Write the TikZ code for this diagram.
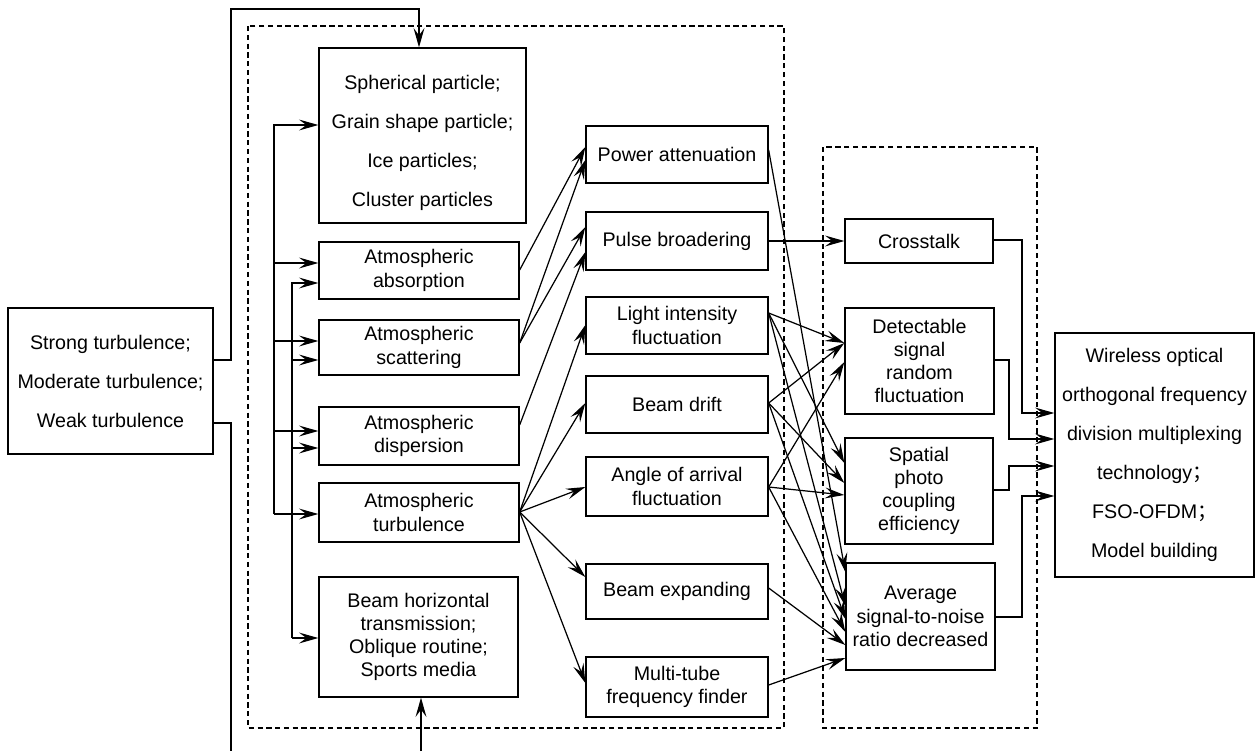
\documentclass[tikz,border=0pt]{standalone}
\usepackage{fontspec}
\setmainfont{Liberation Sans}
\newfontfamily\cjkfont{Noto Sans CJK SC}
\usetikzlibrary{arrows.meta,calc}
\begin{document}
\begin{tikzpicture}[x=0.02cm,y=-0.02cm,
  box/.style={draw, line width=0.75pt, align=center, inner sep=0pt, font=\fontsize{11.2}{13.2}\selectfont},
  wide/.style={font=\fontsize{11.2}{22.2}\selectfont},
  plain/.style={align=center, inner sep=0pt, font=\fontsize{11.2}{22.2}\selectfont},
  sz/.style 2 args={minimum width=#1*0.02cm, minimum height=#2*0.02cm},
  conn/.style={line width=0.7pt},
  arr/.style={conn, -{Stealth[length=11pt,width=6.2pt,inset=4.2pt]}},
  dbox/.style={line width=0.65pt, dash pattern=on 3pt off 2pt}
]
\useasboundingbox (0,0) rectangle (1258,751);
% dashed groups
\draw[dbox] (248,26) rectangle (784,728);
\draw[dbox] (823,147) rectangle (1037,728);

% nodes
\node[box,sz={205}{146},wide] (turb) at (110.5,381) {Strong turbulence;\\Moderate turbulence;\\Weak turbulence};
\node[box,sz={207}{175}] (sph) at (422.5,135.5) {};
\node[plain] (sphtext) at (422.5,143) {Spherical particle;\\Grain shape particle;\\Ice particles;\\Cluster particles};
\node[box,sz={200}{57}] (abs) at (419,270.5) {Atmospheric\\absorption};
\node[box,sz={200}{55}] (sca) at (419,347.5) {Atmospheric\\scattering};
\node[box,sz={200}{58}] (dis) at (419,436) {Atmospheric\\dispersion};
\node[box,sz={200}{59}] (atu) at (419,512.5) {Atmospheric\\turbulence};
\node[box,sz={199}{120}] (bhz) at (418.5,637) {Beam horizontal\\transmission;\\Oblique routine;\\Sports media};
\node[box,sz={182}{57}] (pow) at (677,154.5) {Power attenuation};
\node[box,sz={182}{58}] (pul) at (677,241) {Pulse broadering};
\node[box,sz={182}{57}] (lig) at (677,325.5) {Light intensity\\fluctuation};
\node[box,sz={182}{57}] (bdr) at (677,404.5) {Beam drift};
\node[box,sz={182}{59}] (aoa) at (677,486.5) {Angle of arrival\\fluctuation};
\node[box,sz={182}{55}] (bex) at (677,591.5) {Beam expanding};
\node[box,sz={182}{60}] (mtf) at (677,687) {Multi-tube\\frequency finder};
\node[box,sz={148}{44}] (cro) at (919,241) {Crosstalk};
\node[box,sz={149}{106}] (det) at (919.5,361) {Detectable\\signal\\random\\fluctuation};
\node[box,sz={148}{106}] (spa) at (919,491) {Spatial\\photo\\coupling\\efficiency};
\node[box,sz={149}{107}] (avg) at (920.5,616.5) {Average\\signal-to-noise\\ratio decreased};
\node[box,sz={199}{244},wide] (fin) at (1154.5,455) {Wireless optical\\orthogonal frequency\\division multiplexing\\technology{\cjkfont ；}\\FSO-OFDM{\cjkfont ；}\\Model building};

% loop from the turbulence-strength box
\coordinate (loopL) at (231,751);
\coordinate (loopR) at (421,751);
\draw[arr] (turb.east |- 0,360) -- (231,360) -- (231,9) -- (419,9) -- (sph.north -| 419,0);
\draw[conn] (turb.east |- 0,423) -- (231,423) -- (loopL);
\draw[arr] (loopR) -- (bhz.south -| loopR);

% bus 1
\coordinate (b1t) at (274,125);
\coordinate (b1b) at (274,514);
\draw[arr] (b1b) -- (b1t) -- (sph.west |- b1t);
\draw[arr] (b1b) -- (atu.west |- b1b);
\draw[arr] (274,263) -- (abs.west |- 0,263);
\draw[arr] (274,341) -- (sca.west |- 0,341);
\draw[arr] (274,431) -- (dis.west |- 0,431);
% bus 2
\coordinate (b2t) at (292,283);
\coordinate (b2b) at (292,638);
\draw[arr] (b2b) -- (b2t) -- (abs.west |- b2t);
\draw[arr] (b2b) -- (bhz.west |- b2b);
\draw[arr] (292,360) -- (sca.west |- 0,360);
\draw[arr] (292,448) -- (dis.west |- 0,448);

% left column -> middle column
\draw[arr] (abs.east |- 0,270) -- (pow.west |- 0,147);
\draw[arr] (sca.east |- 0,343) -- (pow.west |- 0,160);
\draw[arr] (sca.east |- 0,343) -- (pul.west |- 0,227);
\draw[arr] (dis.east |- 0,425) -- (pul.west |- 0,252);
\draw[arr] (atu.east |- 0,512) -- (lig.west |- 0,325);
\draw[arr] (atu.east |- 0,512) -- (bdr.west |- 0,403);
\draw[arr] (atu.east |- 0,512) -- (aoa.west |- 0,487);
\draw[arr] (atu.east |- 0,512) -- (bex.west |- 0,577);
\draw[arr] (atu.east |- 0,512) -- (mtf.west |- 0,683);

% middle column -> right column
\draw[arr] (pow.east |- 0,150) -- (avg.west |- 0,572);
\draw[arr] (pul.east |- 0,241) -- (cro.west |- 0,241);
\draw[arr] (lig.east |- 0,313) -- (det.west |- 0,343);
\draw[arr] (lig.east |- 0,313) -- (spa.west |- 0,463);
\draw[arr] (lig.east |- 0,313) -- (avg.west |- 0,606);
\draw[arr] (bdr.east |- 0,403) -- (det.west |- 0,343);
\draw[arr] (bdr.east |- 0,403) -- (spa.west |- 0,483);
\draw[arr] (bdr.east |- 0,403) -- (avg.west |- 0,619);
\draw[arr] (aoa.east |- 0,487) -- (det.west |- 0,362);
\draw[arr] (aoa.east |- 0,487) -- (spa.west |- 0,495);
\draw[arr] (aoa.east |- 0,487) -- (avg.west |- 0,632);
\draw[arr] (bex.east |- 0,588) -- (avg.west |- 0,645);
\draw[arr] (mtf.east |- 0,685) -- (avg.west |- 0,658);

% right column -> final box
\draw[arr] (cro.east |- 0,240) -- (1022,240) -- (1022,413) -- (fin.west |- 0,413);
\draw[arr] (det.east |- 0,360) -- (1009,360) -- (1009,439) -- (fin.west |- 0,439);
\draw[arr] (spa.east |- 0,490) -- (1009,490) -- (1009,466) -- (fin.west |- 0,466);
\draw[arr] (avg.east |- 0,617) -- (1022,617) -- (1022,496) -- (fin.west |- 0,496);
\end{tikzpicture}
\end{document}
